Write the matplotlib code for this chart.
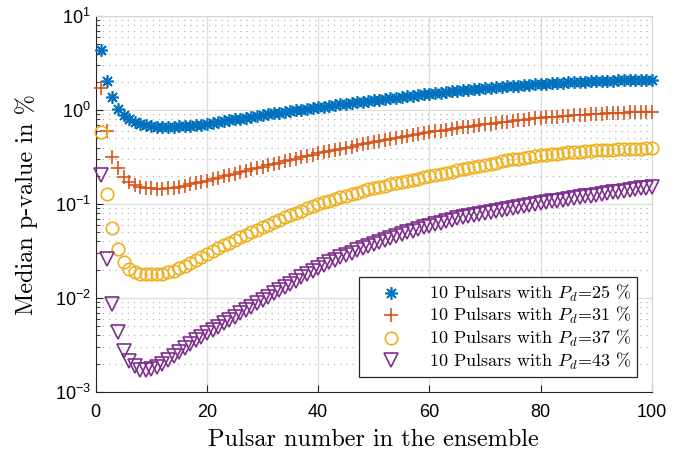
import matplotlib
matplotlib.use("Agg")
import matplotlib.pyplot as plt
import numpy as np

# median p-value (%) vs pulsar number
pulsar_number = list(range(1, 101))

p_25 = [4.35, 2.05, 1.38, 1.04, 0.885, 0.80, 0.745, 0.71, 0.69, 0.675,
        0.668, 0.665, 0.665, 0.667, 0.670, 0.675, 0.682, 0.69, 0.70, 0.71,
        0.726, 0.743, 0.760, 0.778, 0.796, 0.814, 0.833, 0.853, 0.872, 0.891,
        0.908, 0.925, 0.942, 0.960, 0.977, 0.995, 1.014, 1.033, 1.052, 1.072,
        1.091, 1.110, 1.130, 1.149, 1.169, 1.189, 1.21, 1.23, 1.25, 1.274,
        1.295, 1.316, 1.337, 1.358, 1.380, 1.403, 1.426, 1.449, 1.472, 1.496,
        1.517, 1.538, 1.560, 1.581, 1.603, 1.626, 1.648, 1.671, 1.694, 1.718,
        1.736, 1.754, 1.773, 1.791, 1.81, 1.828, 1.847, 1.866, 1.886, 1.905,
        1.918, 1.932, 1.945, 1.959, 1.972, 1.986, 2.0, 2.014, 2.028, 2.042,
        2.049, 2.056, 2.063, 2.070, 2.077, 2.084, 2.091, 2.098, 2.105, 2.113]

p_31 = [1.74, 0.60, 0.318, 0.24, 0.195, 0.172, 0.160, 0.153, 0.149, 0.147,
        0.146, 0.146, 0.147, 0.150, 0.153, 0.157, 0.162, 0.167, 0.172, 0.178,
        0.184, 0.191, 0.197, 0.204, 0.211, 0.219, 0.226, 0.234, 0.243, 0.251,
        0.259, 0.268, 0.277, 0.286, 0.295, 0.305, 0.315, 0.325, 0.336, 0.347,
        0.356, 0.366, 0.377, 0.387, 0.398, 0.409, 0.421, 0.433, 0.445, 0.457,
        0.468, 0.480, 0.491, 0.504, 0.516, 0.528, 0.541, 0.555, 0.568, 0.582,
        0.593, 0.605, 0.617, 0.630, 0.642, 0.655, 0.668, 0.681, 0.694, 0.708,
        0.719, 0.731, 0.743, 0.755, 0.767, 0.780, 0.793, 0.805, 0.818, 0.832,
        0.839, 0.847, 0.855, 0.863, 0.871, 0.879, 0.887, 0.895, 0.904, 0.912,
        0.917, 0.923, 0.928, 0.933, 0.939, 0.944, 0.950, 0.955, 0.961, 0.966]

p_37 = [0.58, 0.127, 0.055, 0.033, 0.0243, 0.0202, 0.0188, 0.0181, 0.0178, 0.0178,
        0.0180, 0.0182, 0.0187, 0.0196, 0.0207, 0.0220, 0.0234, 0.0251, 0.0272, 0.0295,
        0.0316, 0.0339, 0.0363, 0.0389, 0.0417, 0.0444, 0.0472, 0.0502, 0.0535, 0.0569,
        0.0604, 0.0641, 0.0681, 0.0723, 0.0767, 0.0809, 0.0853, 0.0899, 0.0948, 0.100,
        0.104, 0.109, 0.113, 0.118, 0.123, 0.128, 0.132, 0.137, 0.143, 0.148,
        0.152, 0.157, 0.162, 0.167, 0.172, 0.177, 0.182, 0.187, 0.192, 0.197,
        0.203, 0.209, 0.216, 0.222, 0.229, 0.236, 0.242, 0.249, 0.256, 0.263,
        0.270, 0.277, 0.284, 0.291, 0.299, 0.305, 0.311, 0.318, 0.324, 0.331,
        0.336, 0.340, 0.345, 0.350, 0.355, 0.358, 0.361, 0.365, 0.368, 0.372,
        0.374, 0.377, 0.379, 0.382, 0.385, 0.386, 0.388, 0.390, 0.392, 0.394]

p_43 = [0.204, 0.0258, 0.0086, 0.0043, 0.00275, 0.00215, 0.0019, 0.00173, 0.00170, 0.00175,
        0.00185, 0.00200, 0.00219, 0.00243, 0.00269, 0.00295, 0.00324, 0.00355, 0.00386, 0.00420,
        0.00456, 0.00494, 0.00537, 0.00583, 0.00632, 0.00687, 0.00746, 0.00811, 0.00879, 0.00955,
        0.0103, 0.0112, 0.0121, 0.0131, 0.0141, 0.0153, 0.0166, 0.0180, 0.0195, 0.0211,
        0.0225, 0.0239, 0.0255, 0.0271, 0.0288, 0.0304, 0.0321, 0.0338, 0.0356, 0.0376,
        0.0394, 0.0414, 0.0435, 0.0456, 0.0479, 0.0499, 0.0520, 0.0542, 0.0565, 0.0589,
        0.0611, 0.0634, 0.0658, 0.0682, 0.0708, 0.0728, 0.0748, 0.0769, 0.0791, 0.0813,
        0.0832, 0.0851, 0.0871, 0.0891, 0.0912, 0.0933, 0.0955, 0.0977, 0.100, 0.102,
        0.104, 0.107, 0.109, 0.111, 0.114, 0.116, 0.118, 0.121, 0.123, 0.126,
        0.128, 0.131, 0.133, 0.136, 0.139, 0.142, 0.144, 0.147, 0.150, 0.153]

series_labels = ['10 Pulsars with $P_d$=25 %', '10 Pulsars with $P_d$=31 %',
                 '10 Pulsars with $P_d$=37 %', '10 Pulsars with $P_d$=43 %']
xticks = [0, 20, 40, 60, 80, 100]

plt.rcParams['font.family'] = ['Liberation Sans', 'DejaVu Sans']
plt.rcParams['mathtext.fontset'] = 'cm'
serif = ['cmr10', 'DejaVu Serif']

# matlab default colours and markers
colors = ['#0072BD', '#D95319', '#EDB120', '#7E2F8E']
markers = [(8, 2, 0), '+', 'o', 'v']
sizes = [9, 10, 9, 9.5]

fig = plt.figure(figsize=(6.89, 4.5), dpi=100)
ax = fig.add_axes([0.139, 0.129, 0.807, 0.835])

for vals, c, m, s, lab in zip([p_25, p_31, p_37, p_43], colors, markers, sizes, series_labels):
    ax.plot(pulsar_number, vals, ls='none', marker=m, ms=s, mec=c, mfc='none',
            mew=1.2, color=c, label=lab, clip_on=False, zorder=3)

ax.set_yscale('log')
ax.set_ylim(1e-3, 1e1)
ax.set_xlim(0, 100)
ax.set_xticks(xticks)
ax.xaxis.set_minor_locator(matplotlib.ticker.NullLocator())

ax.grid(True, which='major', color='#dedede', lw=0.9)
ax.grid(True, which='minor', axis='y', ls=(0, (1, 4)), color='#b5b5b5', lw=0.9)
ax.set_axisbelow(True)

ax.tick_params(which='both', direction='in', labelsize=13, color='#262626')
ax.tick_params(which='major', length=5)
ax.tick_params(which='minor', length=3)
ax.tick_params(axis='x', pad=9)

for side in ['left', 'bottom']:
    ax.spines[side].set_color('#262626')
for side in ['top', 'right']:
    ax.spines[side].set_color('#d4d4d4')

ax.set_xlabel('Pulsar number in the ensemble', family=serif, fontsize=17.5, labelpad=5)
ax.set_ylabel('Median p-value in %', family=serif, fontsize=17.5, labelpad=12)

leg = ax.legend(loc='lower right', bbox_to_anchor=(0.973, 0.04), fontsize=13,
                fancybox=False, framealpha=1, edgecolor='#262626',
                borderpad=0.3, labelspacing=0.08, handlelength=3.0,
                handletextpad=0.6, borderaxespad=0)
leg.get_frame().set_linewidth(0.9)
for t in leg.get_texts():
    t.set_family(serif)

fig.savefig('out.png', dpi=100)
